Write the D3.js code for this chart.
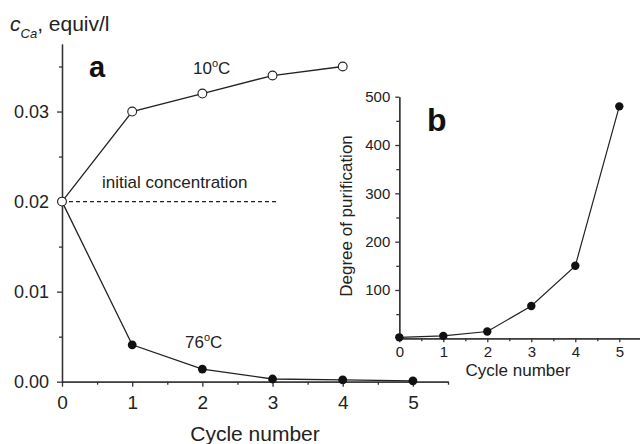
<!DOCTYPE html>
<html>
<head>
<meta charset="utf-8">
<script src="https://cdn.jsdelivr.net/npm/d3@7"></script>
<style>
  body { margin: 0; background: #fff; }
  svg { display: block; font-family: "Liberation Sans", Arial, sans-serif; }
  .axis path, .axis line { stroke: #333; stroke-width: 1.3; }
  .axis text { fill: #222; }
</style>
</head>
<body>
<svg id="chart" width="640" height="444"></svg>
<script>
// panel a: Ca concentration vs cycle
const cycles = [0, 1, 2, 3, 4, 5];
const conc10 = [0.020, 0.030, 0.032, 0.034, 0.035];
const conc76 = [0.020, 0.0041, 0.0014, 0.0003, 0.0002, 0.0001];
const initialConc = 0.02;
const initialLineEnd = 3.05;
const aYTicks = [0, 0.01, 0.02, 0.03];
const aYMinor = [0.005, 0.015, 0.025, 0.035];
const xTicks = [0, 1, 2, 3, 4, 5];
const xMinor = [0.5, 1.5, 2.5, 3.5, 4.5, 5.5];

// panel b: degree of purification
const purification = [2, 5, 14, 67, 150, 480];
const bYTicks = [100, 200, 300, 400, 500];
const bYMinor = [50, 150, 250, 350, 450];

const svg = d3.select("#chart");
const ink = "#222";

// ---- panel a ----
const xA = d3.scaleLinear().domain([0, 5.5]).range([62, 448]);
const yA = d3.scaleLinear().domain([0, 0.0375]).range([381.7, 44]);

const gA = svg.append("g");

gA.append("g").attr("class", "axis")
  .attr("transform", `translate(0,${yA(0)})`)
  .call(d3.axisBottom(xA).tickValues(xMinor).tickSize(3).tickFormat("").tickSizeOuter(0));
gA.append("g").attr("class", "axis")
  .attr("transform", `translate(0,${yA(0)})`)
  .call(d3.axisBottom(xA).tickValues(xTicks).tickSize(5).tickPadding(9)
    .tickFormat(d3.format("d")).tickSizeOuter(0))
  .selectAll("text").style("font-size", "19px");

gA.append("g").attr("class", "axis")
  .attr("transform", `translate(${xA(0)},0)`)
  .call(d3.axisLeft(yA).tickValues(aYMinor).tickSize(3).tickFormat("").tickSizeOuter(0));
gA.append("g").attr("class", "axis")
  .attr("transform", `translate(${xA(0)},0)`)
  .call(d3.axisLeft(yA).tickValues(aYTicks).tickSize(5).tickPadding(8)
    .tickFormat(d3.format(".2f")).tickSizeOuter(0))
  .selectAll("text").style("font-size", "18px");

// initial concentration dashed line
gA.append("line")
  .attr("x1", xA(0)).attr("x2", xA(initialLineEnd))
  .attr("y1", yA(initialConc)).attr("y2", yA(initialConc))
  .attr("stroke", ink).attr("stroke-width", 1.1)
  .attr("stroke-dasharray", "4,3");

const lineA = d3.line().x((d, i) => xA(cycles[i])).y(d => yA(d));

gA.append("path").datum(conc76)
  .attr("d", lineA).attr("fill", "none").attr("stroke", ink).attr("stroke-width", 1.3);
gA.append("path").datum(conc10)
  .attr("d", lineA).attr("fill", "none").attr("stroke", ink).attr("stroke-width", 1.3);

gA.selectAll(".p76").data(conc76).join("circle")
  .attr("class", "p76")
  .attr("cx", (d, i) => xA(cycles[i])).attr("cy", d => yA(d))
  .attr("r", 4.4).attr("fill", "#111");
gA.selectAll(".p10").data(conc10).join("circle")
  .attr("class", "p10")
  .attr("cx", (d, i) => xA(cycles[i])).attr("cy", d => yA(d))
  .attr("r", 4.4).attr("fill", "#fff").attr("stroke", ink).attr("stroke-width", 1.1);

// labels
gA.append("text").attr("x", 89).attr("y", 77)
  .style("font-size", "29px").style("font-weight", "bold").attr("fill", "#111").text("a");

function tempLabel(x, y, num) {
  const t = gA.append("text").attr("x", x).attr("y", y)
    .style("font-size", "17px").attr("fill", ink);
  t.append("tspan").text(num);
  t.append("tspan").attr("dy", -7).style("font-size", "11px").text("o");
  t.append("tspan").attr("dy", 7).text("C");
}
tempLabel(193, 74, "10");
tempLabel(185, 348, "76");

gA.append("text").attr("x", 102).attr("y", 188)
  .style("font-size", "17px").attr("fill", ink).text("initial concentration");

gA.append("text").attr("x", 255).attr("y", 441)
  .attr("text-anchor", "middle").style("font-size", "21px").attr("fill", ink)
  .text("Cycle number");

const yTitle = gA.append("text").attr("x", 10).attr("y", 31)
  .style("font-size", "21px").attr("fill", ink);
yTitle.append("tspan").style("font-style", "italic").text("c");
yTitle.append("tspan").attr("dy", 7).style("font-style", "italic").style("font-size", "13px").text("Ca");
yTitle.append("tspan").attr("dy", -7).text(", equiv/l");

// ---- panel b (inset) ----
const xB = d3.scaleLinear().domain([0, 5.5]).range([399.3, 641.3]);
const yB = d3.scaleLinear().domain([0, 500]).range([338.3, 96.7]);

const gB = svg.append("g");

gB.append("g").attr("class", "axis")
  .attr("transform", `translate(0,${yB(0)})`)
  .call(d3.axisBottom(xB).tickValues(xMinor).tickSize(3).tickFormat("").tickSizeOuter(0));
gB.append("g").attr("class", "axis")
  .attr("transform", `translate(0,${yB(0)})`)
  .call(d3.axisBottom(xB).tickValues(xTicks).tickSize(4).tickPadding(4)
    .tickFormat(d3.format("d")).tickSizeOuter(0))
  .selectAll("text").style("font-size", "15px");

gB.append("g").attr("class", "axis")
  .attr("transform", `translate(${xB(0)},0)`)
  .call(d3.axisLeft(yB).tickValues(bYMinor).tickSize(3).tickFormat("").tickSizeOuter(0));
gB.append("g").attr("class", "axis")
  .attr("transform", `translate(${xB(0)},0)`)
  .call(d3.axisLeft(yB).tickValues(bYTicks).tickSize(4).tickPadding(5).tickSizeOuter(0))
  .selectAll("text").style("font-size", "15px");

const lineB = d3.line().x((d, i) => xB(cycles[i])).y(d => yB(d));
gB.append("path").datum(purification)
  .attr("d", lineB).attr("fill", "none").attr("stroke", ink).attr("stroke-width", 1.2);
gB.selectAll(".pb").data(purification).join("circle")
  .attr("class", "pb")
  .attr("cx", (d, i) => xB(cycles[i])).attr("cy", d => yB(d))
  .attr("r", 4.2).attr("fill", "#111");

gB.append("text").attr("x", 427).attr("y", 131)
  .style("font-size", "32px").style("font-weight", "bold").attr("fill", "#111").text("b");

gB.append("text").attr("x", 518).attr("y", 376)
  .attr("text-anchor", "middle").style("font-size", "17px").attr("fill", ink)
  .text("Cycle number");

gB.append("text")
  .attr("transform", "translate(352,216) rotate(-90)")
  .attr("text-anchor", "middle").style("font-size", "17px").attr("fill", ink)
  .text("Degree of purification");
</script>
</body>
</html>
